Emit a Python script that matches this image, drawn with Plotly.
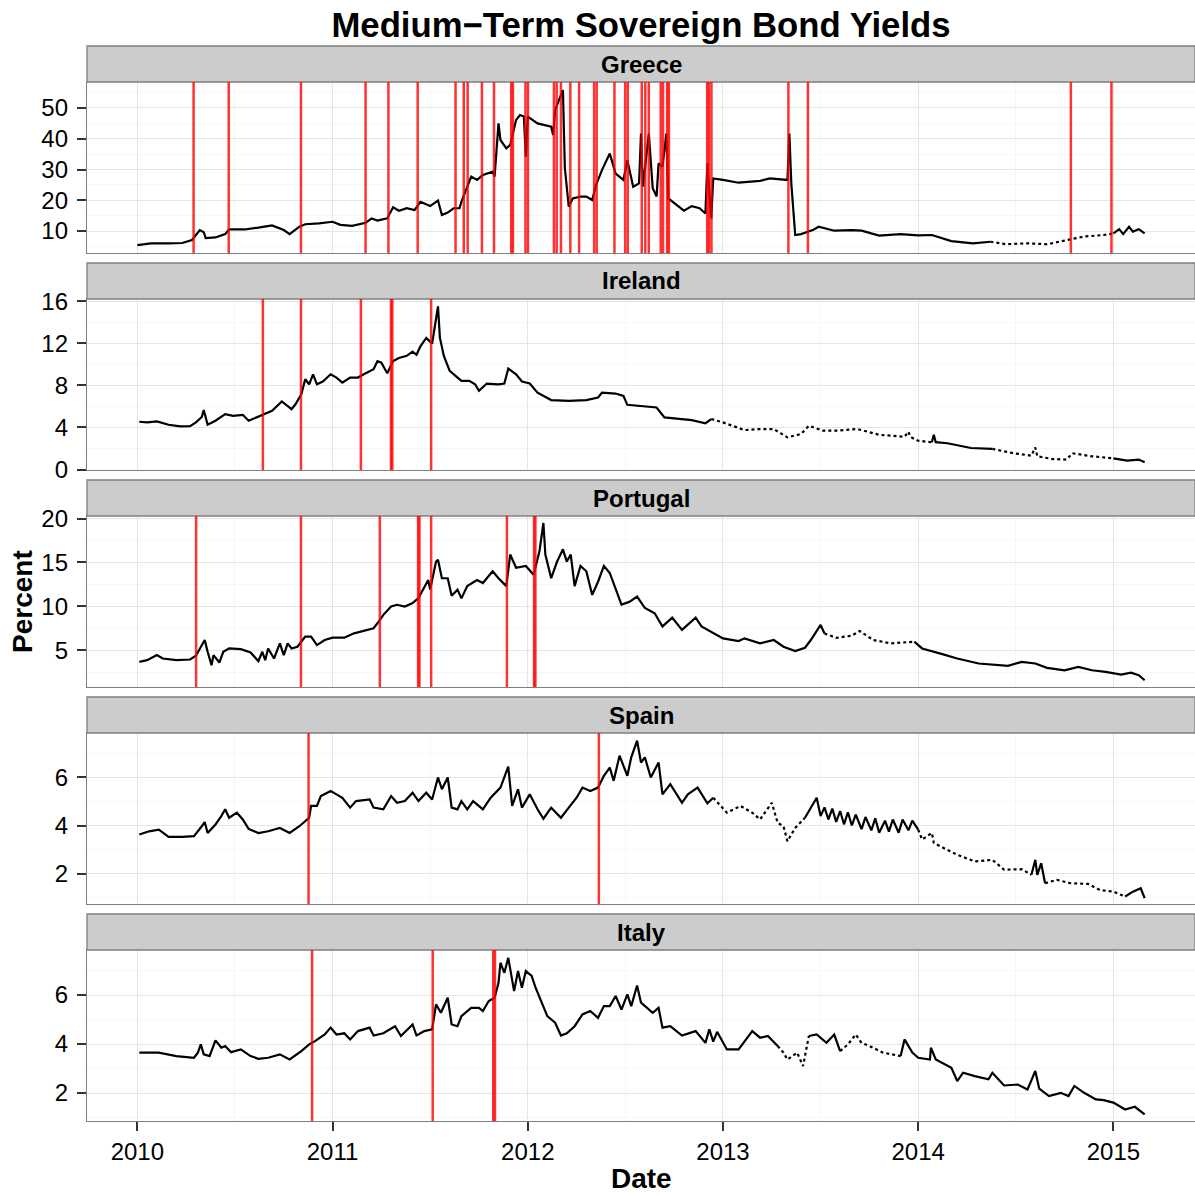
import plotly.graph_objects as go

# ---------------- data (decimal years, percent) ----------------
countries = ["Greece", "Ireland", "Portugal", "Spain", "Italy"]

greece_t = [2010.00, 2010.07, 2010.16, 2010.23, 2010.28, 2010.32, 2010.34, 2010.35, 2010.40, 2010.45,
            2010.47, 2010.55, 2010.62, 2010.69, 2010.75, 2010.78, 2010.83, 2010.86, 2010.93, 2011.00,
            2011.04, 2011.10, 2011.17, 2011.20, 2011.23, 2011.28, 2011.31, 2011.34, 2011.38, 2011.42,
            2011.45, 2011.50, 2011.54, 2011.56, 2011.59, 2011.62, 2011.65, 2011.66, 2011.71, 2011.74,
            2011.77, 2011.82, 2011.83, 2011.85, 2011.86, 2011.89, 2011.91, 2011.94, 2011.96, 2011.98,
            2011.99, 2012.00, 2012.05, 2012.08, 2012.12, 2012.13, 2012.14, 2012.16, 2012.18, 2012.19,
            2012.21, 2012.23, 2012.27, 2012.30, 2012.33, 2012.35, 2012.38, 2012.42, 2012.45, 2012.49,
            2012.51, 2012.54, 2012.57, 2012.58, 2012.59, 2012.62, 2012.63, 2012.64, 2012.66, 2012.67,
            2012.69, 2012.71, 2012.72, 2012.75, 2012.80, 2012.84, 2012.88, 2012.91, 2012.92, 2012.94,
            2012.95, 2013.00, 2013.08, 2013.19, 2013.24, 2013.33, 2013.34, 2013.35, 2013.37, 2013.40,
            2013.46, 2013.49, 2013.57, 2013.66, 2013.71, 2013.80, 2013.91, 2014.00, 2014.07, 2014.17,
            2014.28, 2014.37, 2014.45, 2014.56, 2014.66, 2014.78, 2014.85, 2014.95, 2015.00, 2015.03,
            2015.05, 2015.08, 2015.10, 2015.13, 2015.16]
greece_y = [5.4, 6.0, 6.0, 6.1, 7.1, 10.3, 9.6, 7.7, 7.9, 9.0,
            10.5, 10.5, 11.1, 11.8, 10.3, 9.0, 11.4, 12.2, 12.5, 13.0,
            12.0, 11.7, 12.7, 14.1, 13.4, 14.1, 17.7, 16.6, 17.4, 16.8,
            19.5, 18.1, 19.9, 15.2, 16.0, 17.4, 17.4, 19.5, 27.7, 26.6,
            28.2, 29.3, 27.7, 45.0, 39.6, 36.9, 38.0, 46.1, 47.7, 47.2,
            34.2, 47.2, 45.0, 44.5, 43.9, 41.2, 49.3, 52.6, 55.8, 30.4,
            17.9, 20.6, 21.2, 21.2, 20.1, 25.0, 29.8, 35.2, 28.7, 26.6,
            33.0, 24.4, 25.5, 41.7, 24.4, 41.7, 32.5, 23.9, 21.2, 32.0,
            30.9, 41.7, 20.6, 19.0, 16.6, 18.1, 17.4, 15.7, 32.0, 14.1,
            27.1, 26.6, 25.7, 26.3, 27.1, 26.6, 41.7, 25.5, 8.7, 9.0,
            10.3, 11.4, 10.1, 10.3, 10.1, 8.5, 9.0, 8.6, 8.7, 6.7,
            6.0, 6.5, 5.7, 6.0, 5.7, 7.3, 8.2, 8.7, 9.2, 10.6,
            9.0, 11.4, 9.8, 10.6, 9.2]

ireland_t = [2010.01, 2010.05, 2010.10, 2010.16, 2010.22, 2010.27, 2010.30, 2010.33, 2010.34, 2010.36,
             2010.40, 2010.45, 2010.49, 2010.54, 2010.57, 2010.61, 2010.65, 2010.69, 2010.74, 2010.77,
             2010.79, 2010.81, 2010.84, 2010.86, 2010.88, 2010.90, 2010.92, 2010.95, 2010.99, 2011.02,
             2011.05, 2011.09, 2011.13, 2011.16, 2011.21, 2011.23, 2011.25, 2011.28, 2011.31, 2011.34,
             2011.38, 2011.41, 2011.43, 2011.45, 2011.48, 2011.51, 2011.53, 2011.54, 2011.55, 2011.57,
             2011.60, 2011.63, 2011.66, 2011.70, 2011.73, 2011.75, 2011.79, 2011.85, 2011.88, 2011.90,
             2011.94, 2011.97, 2012.01, 2012.05, 2012.12, 2012.21, 2012.30, 2012.36, 2012.38, 2012.45,
             2012.49, 2012.51, 2012.61, 2012.66, 2012.70, 2012.77, 2012.84, 2012.91, 2012.94, 2013.00,
             2013.11, 2013.19, 2013.26, 2013.33, 2013.40, 2013.44, 2013.51, 2013.58, 2013.69, 2013.80,
             2013.93, 2013.95, 2013.96, 2014.00, 2014.07, 2014.08, 2014.09, 2014.15, 2014.27, 2014.38,
             2014.49, 2014.58, 2014.60, 2014.61, 2014.69, 2014.76, 2014.79, 2014.89, 2015.00, 2015.07,
             2015.13, 2015.16]
ireland_y = [4.54, 4.48, 4.57, 4.26, 4.10, 4.13, 4.48, 5.00, 5.65, 4.26,
             4.64, 5.27, 5.10, 5.20, 4.64, 4.95, 5.27, 5.58, 6.47, 6.06,
             5.74, 6.20, 7.16, 8.58, 8.10, 9.05, 8.10, 8.36, 9.05, 8.74,
             8.26, 8.74, 8.74, 9.05, 9.53, 10.30, 10.16, 9.15, 10.30, 10.60,
             10.80, 11.20, 10.90, 11.70, 12.50, 11.96, 14.10, 15.50, 12.50, 10.80,
             9.37, 8.90, 8.42, 8.42, 8.10, 7.48, 8.17, 8.10, 8.17, 9.60,
             9.05, 8.36, 8.17, 7.30, 6.60, 6.53, 6.60, 6.85, 7.30, 7.22,
             7.00, 6.15, 5.96, 5.90, 4.95, 4.80, 4.70, 4.40, 4.80, 4.48,
             3.75, 3.85, 3.85, 3.06, 3.38, 4.16, 3.70, 3.70, 3.85, 3.30,
             3.12, 3.60, 3.10, 2.74, 2.59, 3.30, 2.60, 2.50, 2.05, 1.96,
             1.55, 1.32, 2.10, 1.26, 1.00, 0.95, 1.55, 1.26, 1.07, 0.85,
             0.95, 0.70]

portugal_t = [2010.01, 2010.05, 2010.10, 2010.13, 2010.20, 2010.27, 2010.30, 2010.33, 2010.345, 2010.36,
              2010.38, 2010.39, 2010.42, 2010.44, 2010.47, 2010.53, 2010.58, 2010.62, 2010.64, 2010.655,
              2010.67, 2010.70, 2010.73, 2010.75, 2010.77, 2010.79, 2010.82, 2010.86, 2010.89, 2010.92,
              2010.96, 2011.00, 2011.06, 2011.11, 2011.17, 2011.21, 2011.23, 2011.26, 2011.30, 2011.33,
              2011.37, 2011.41, 2011.44, 2011.49, 2011.50, 2011.53, 2011.54, 2011.56, 2011.59, 2011.61,
              2011.64, 2011.66, 2011.69, 2011.74, 2011.77, 2011.82, 2011.85, 2011.89, 2011.91, 2011.94,
              2011.99, 2012.03, 2012.06, 2012.08, 2012.09, 2012.12, 2012.15, 2012.18, 2012.20, 2012.22,
              2012.24, 2012.27, 2012.30, 2012.33, 2012.36, 2012.39, 2012.42, 2012.45, 2012.48, 2012.52,
              2012.56, 2012.60, 2012.65, 2012.69, 2012.74, 2012.79, 2012.86, 2012.89, 2012.94, 2013.00,
              2013.08, 2013.11, 2013.19, 2013.26, 2013.31, 2013.37, 2013.42, 2013.45, 2013.50, 2013.52,
              2013.58, 2013.66, 2013.70, 2013.77, 2013.86, 2013.98, 2014.02, 2014.11, 2014.20, 2014.31,
              2014.38, 2014.46, 2014.53, 2014.60, 2014.66, 2014.75, 2014.82, 2014.89, 2014.96, 2015.04,
              2015.09, 2015.13, 2015.16]
portugal_y = [3.66, 3.85, 4.43, 4.04, 3.85, 3.93, 4.35, 5.57, 6.15, 4.81,
              3.28, 4.43, 3.58, 4.81, 5.19, 5.11, 4.73, 3.74, 4.81, 3.85,
              5.19, 4.04, 5.77, 4.43, 5.77, 5.19, 5.38, 6.53, 6.53, 5.57,
              6.15, 6.42, 6.42, 6.91, 7.30, 7.49, 8.06, 9.02, 9.97, 10.17,
              9.97, 10.36, 10.93, 13.00, 11.90, 15.10, 15.30, 13.20, 13.20, 11.20,
              11.90, 10.90, 12.30, 13.00, 12.65, 14.00, 13.20, 12.30, 15.90, 14.40,
              14.60, 13.60, 16.30, 19.50, 15.90, 13.20, 15.10, 16.50, 15.10, 15.90,
              12.30, 14.60, 14.00, 11.30, 12.80, 14.60, 13.80, 12.10, 10.20, 10.50,
              11.10, 9.80, 9.20, 7.70, 8.70, 7.30, 8.70, 7.70, 7.10, 6.34,
              6.03, 6.34, 5.77, 6.15, 5.38, 4.89, 5.27, 6.15, 7.87, 6.90,
              6.40, 6.65, 7.18, 6.15, 5.77, 5.96, 5.19, 4.62, 4.04, 3.47,
              3.35, 3.20, 3.66, 3.47, 2.97, 2.70, 3.09, 2.70, 2.51, 2.20,
              2.43, 2.13, 1.56]

spain_t = [2010.01, 2010.06, 2010.11, 2010.16, 2010.23, 2010.29, 2010.33, 2010.345, 2010.36, 2010.40,
           2010.43, 2010.45, 2010.47, 2010.51, 2010.54, 2010.57, 2010.62, 2010.67, 2010.73, 2010.78,
           2010.83, 2010.88, 2010.89, 2010.92, 2010.94, 2010.99, 2011.02, 2011.05, 2011.09, 2011.12,
           2011.19, 2011.21, 2011.26, 2011.30, 2011.33, 2011.37, 2011.41, 2011.44, 2011.48, 2011.51,
           2011.54, 2011.56, 2011.59, 2011.61, 2011.64, 2011.66, 2011.69, 2011.72, 2011.77, 2011.81,
           2011.86, 2011.90, 2011.92, 2011.95, 2011.97, 2012.01, 2012.05, 2012.08, 2012.12, 2012.17,
           2012.21, 2012.25, 2012.28, 2012.32, 2012.36, 2012.39, 2012.42, 2012.44, 2012.47, 2012.51,
           2012.53, 2012.56, 2012.58, 2012.60, 2012.63, 2012.67, 2012.69, 2012.73, 2012.79, 2012.82,
           2012.87, 2012.92, 2012.95, 2013.02, 2013.09, 2013.15, 2013.19, 2013.25, 2013.28, 2013.31,
           2013.33, 2013.37, 2013.42, 2013.48, 2013.50, 2013.52, 2013.54, 2013.56, 2013.58, 2013.60,
           2013.62, 2013.64, 2013.66, 2013.68, 2013.71, 2013.73, 2013.76, 2013.78, 2013.80, 2013.83,
           2013.85, 2013.87, 2013.90, 2013.92, 2013.95, 2013.97, 2014.00, 2014.02, 2014.07, 2014.08,
           2014.13, 2014.20, 2014.29, 2014.38, 2014.44, 2014.53, 2014.58, 2014.60, 2014.61, 2014.63,
           2014.65, 2014.71, 2014.78, 2014.87, 2014.93, 2015.00, 2015.06, 2015.10, 2015.14, 2015.16]
spain_y = [3.63, 3.76, 3.83, 3.53, 3.53, 3.56, 3.97, 4.14, 3.69, 4.04,
           4.39, 4.67, 4.32, 4.53, 4.25, 3.86, 3.69, 3.76, 3.90, 3.69,
           3.97, 4.32, 4.81, 4.81, 5.22, 5.43, 5.29, 5.15, 4.74, 5.01,
           5.08, 4.74, 4.67, 5.22, 4.94, 5.01, 5.36, 5.01, 5.36, 5.08,
           5.99, 5.50, 5.99, 4.74, 4.67, 5.01, 4.67, 5.01, 4.67, 5.15,
           5.57, 6.44, 4.81, 5.50, 4.74, 5.29, 4.67, 4.28, 4.74, 4.32,
           4.74, 5.15, 5.57, 5.43, 5.57, 6.06, 6.40, 5.85, 6.89, 6.06,
           6.82, 7.51, 6.61, 6.82, 5.99, 6.61, 5.29, 5.71, 4.94, 5.29,
           5.57, 4.92, 5.15, 4.53, 4.81, 4.53, 4.25, 4.94, 4.11, 3.97,
           3.35, 3.90, 4.32, 5.15, 4.39, 4.75, 4.25, 4.70, 4.15, 4.60,
           4.05, 4.55, 4.00, 4.45, 3.85, 4.35, 3.80, 4.30, 3.70, 4.20,
           3.75, 4.25, 3.70, 4.25, 3.80, 4.20, 3.83, 3.42, 3.69, 3.28,
           3.07, 2.79, 2.51, 2.58, 2.17, 2.19, 1.96, 2.58, 1.96, 2.44,
           1.61, 1.75, 1.61, 1.58, 1.33, 1.26, 1.06, 1.26, 1.40, 0.99]

italy_t = [2010.01, 2010.11, 2010.20, 2010.29, 2010.31, 2010.325, 2010.34, 2010.37, 2010.40, 2010.43,
           2010.45, 2010.48, 2010.53, 2010.58, 2010.62, 2010.67, 2010.73, 2010.78, 2010.84, 2010.88,
           2010.91, 2010.96, 2010.99, 2011.02, 2011.06, 2011.09, 2011.13, 2011.19, 2011.21, 2011.26,
           2011.32, 2011.35, 2011.41, 2011.43, 2011.47, 2011.51, 2011.53, 2011.555, 2011.59, 2011.61,
           2011.64, 2011.66, 2011.71, 2011.75, 2011.77, 2011.80, 2011.83, 2011.85, 2011.86, 2011.88,
           2011.90, 2011.93, 2011.95, 2011.97, 2011.99, 2012.02, 2012.04, 2012.07, 2012.10, 2012.14,
           2012.17, 2012.20, 2012.24, 2012.28, 2012.32, 2012.36, 2012.39, 2012.42, 2012.45, 2012.48,
           2012.51, 2012.53, 2012.56, 2012.58, 2012.60, 2012.64, 2012.67, 2012.69, 2012.73, 2012.79,
           2012.86, 2012.91, 2012.93, 2012.95, 2012.97, 2013.02, 2013.08, 2013.11, 2013.15, 2013.19,
           2013.23, 2013.28, 2013.31, 2013.33, 2013.38, 2013.41, 2013.44, 2013.48, 2013.53, 2013.57,
           2013.60, 2013.64, 2013.68, 2013.71, 2013.75, 2013.82, 2013.91, 2013.93, 2013.97, 2014.00,
           2014.06, 2014.065, 2014.09, 2014.17, 2014.20, 2014.23, 2014.29, 2014.36, 2014.38, 2014.44,
           2014.51, 2014.56, 2014.60, 2014.62, 2014.67, 2014.73, 2014.77, 2014.80, 2014.85, 2014.91,
           2014.95, 2015.00, 2015.06, 2015.11, 2015.16]
italy_y = [3.65, 3.65, 3.51, 3.44, 3.65, 3.99, 3.58, 3.51, 4.15, 3.85,
           3.92, 3.67, 3.78, 3.51, 3.40, 3.44, 3.58, 3.37, 3.71, 3.99,
           4.12, 4.39, 4.67, 4.39, 4.44, 4.19, 4.53, 4.67, 4.35, 4.44,
           4.73, 4.33, 4.80, 4.35, 4.53, 4.60, 5.62, 5.28, 5.89, 4.80,
           4.73, 5.14, 5.48, 5.48, 5.35, 5.76, 5.89, 6.50, 7.32, 6.91,
           7.52, 6.16, 6.98, 6.30, 6.98, 6.78, 6.30, 5.69, 5.14, 4.87,
           4.35, 4.44, 4.73, 5.21, 5.35, 5.07, 5.55, 5.55, 5.96, 5.41,
           6.03, 5.55, 6.39, 5.69, 5.55, 5.28, 5.48, 4.67, 4.73, 4.35,
           4.53, 4.05, 4.60, 4.10, 4.50, 3.78, 3.78, 4.12, 4.53, 4.26,
           4.33, 3.92, 3.65, 3.37, 3.65, 3.10, 4.33, 4.39, 4.05, 4.39,
           3.71, 3.99, 4.39, 4.05, 3.92, 3.65, 3.51, 4.19, 3.65, 3.44,
           3.37, 3.85, 3.37, 3.03, 2.49, 2.83, 2.69, 2.56, 2.83, 2.31,
           2.35, 2.15, 2.90, 2.18, 1.88, 2.01, 1.88, 2.29, 2.01, 1.74,
           1.71, 1.61, 1.33, 1.44, 1.13]

# stretches where the reference line is broken into dots (sparse data)
greece_sparse = [[2014.40, 2014.97]]
ireland_sparse = [[2012.95, 2014.05], [2014.40, 2014.98]]
portugal_sparse = [[2013.53, 2013.95]]
spain_sparse = [[2012.97, 2013.40], [2014.02, 2014.57], [2014.66, 2015.00]]
italy_sparse = [[2013.30, 2013.43], [2013.63, 2013.90]]

greece_events = [2010.288, 2010.468, 2010.838, 2011.169, 2011.286, 2011.436, 2011.630, 2011.672,
                 2011.692, 2011.765, 2011.827, 2011.915, 2011.924, 2011.988, 2012.001, 2012.134,
                 2012.148, 2012.170, 2012.218, 2012.263, 2012.340, 2012.353, 2012.444, 2012.499,
                 2012.512, 2012.584, 2012.602, 2012.620, 2012.681, 2012.693, 2012.714, 2012.723,
                 2012.919, 2012.928, 2012.941, 2013.335, 2013.435, 2014.782, 2014.990]
ireland_events = [2010.643, 2010.838, 2011.145, 2011.299, 2011.306, 2011.505]
portugal_events = [2010.301, 2010.838, 2011.242, 2011.438, 2011.445, 2011.505, 2011.893,
                   2012.032, 2012.039]
spain_events = [2010.877, 2012.364]
italy_events = [2010.895, 2011.513, 2011.823, 2011.832]

year_ticks = [2010, 2011, 2012, 2013, 2014, 2015]
year_minor = [2009.5, 2010.5, 2011.5, 2012.5, 2013.5, 2014.5, 2015.5]

y_ranges = [[2.85, 58.45], [-0.04, 16.2], [0.79, 20.3], [0.75, 7.83], [0.86, 7.84]]
y_major = [[10, 20, 30, 40, 50], [0, 4, 8, 12, 16], [5, 10, 15, 20], [2, 4, 6], [2, 4, 6]]
y_minor = [[5, 15, 25, 35, 45, 55], [2, 6, 10, 14], [2.5, 7.5, 12.5, 17.5], [1, 3, 5, 7], [1, 3, 5, 7]]

series_t = [greece_t, ireland_t, portugal_t, spain_t, italy_t]
series_y = [greece_y, ireland_y, portugal_y, spain_y, italy_y]
sparse = [greece_sparse, ireland_sparse, portugal_sparse, spain_sparse, italy_sparse]
events = [greece_events, ireland_events, portugal_events, spain_events, italy_events]

# ---------------- layout geometry (pixels) ----------------
W = H = 1195
ML, MR, MT, MB = 87, 0, 46, 73
plot_h = H - MT - MB
STRIP, PANEL, GAP = 36, 171, 10


def py(px):
    return (H - MB - px) / plot_h


FONT = "Liberation Sans, Arial, Helvetica, sans-serif"
TICKFONT = dict(size=24, color="black", family=FONT)
fig = go.Figure()
shapes = []
annotations = []
layout = {}
x_range = [2009.742, 2015.418]

for i, name in enumerate(countries):
    n = i + 1
    xs = "x" if n == 1 else f"x{n}"
    ys = "y" if n == 1 else f"y{n}"
    xk = "xaxis" if n == 1 else f"xaxis{n}"
    yk = "yaxis" if n == 1 else f"yaxis{n}"
    strip_top = MT + i * (STRIP + PANEL + GAP)
    strip_bot = strip_top + STRIP
    pan_bot = strip_bot + PANEL

    t, v = series_t[i], series_y[i]
    inside = [any(a <= tt <= b for a, b in sparse[i]) for tt in t]
    m = len(t)
    solid_y = [v[k] if not inside[k] else None for k in range(m)]
    dot_y = [v[k] if (inside[k] or (k > 0 and inside[k - 1]) or (k < m - 1 and inside[k + 1])) else None
             for k in range(m)]
    fig.add_trace(go.Scatter(x=t, y=solid_y, mode="lines", xaxis=xs, yaxis=ys, connectgaps=False,
                             line=dict(color="black", width=2.2), showlegend=False, hoverinfo="skip"))
    fig.add_trace(go.Scatter(x=t, y=dot_y, mode="lines", xaxis=xs, yaxis=ys, connectgaps=False,
                             line=dict(color="black", width=2.2, dash="dot"), showlegend=False,
                             hoverinfo="skip"))

    last = (i == len(countries) - 1)
    layout[xk] = dict(
        domain=[0, 1], anchor=ys, range=x_range, tickmode="array", tickvals=year_ticks,
        ticktext=[str(v) for v in year_ticks], showticklabels=last,
        ticks="outside" if last else "", ticklen=9, tickwidth=2, tickcolor="#333333",
        ticklabelstandoff=0, tickfont=TICKFONT,
        showgrid=True, gridcolor="#E5E5E5", gridwidth=1.3, zeroline=False,
        minor=dict(tickvals=year_minor, showgrid=True, gridcolor="#F7F7F7", gridwidth=1, ticks=""),
        showline=True, mirror=True, linecolor="#7F7F7F", linewidth=1.3,
    )
    if n > 1:
        layout[xk]["matches"] = "x"
    layout[yk] = dict(
        domain=[py(pan_bot), py(strip_bot)], anchor=xs, range=y_ranges[i], tickmode="array",
        tickvals=y_major[i], ticks="outside", ticklen=9, tickwidth=2, tickcolor="#333333",
        ticklabelstandoff=4, tickfont=TICKFONT,
        showgrid=True, gridcolor="#E5E5E5", gridwidth=1.3, zeroline=False,
        minor=dict(tickvals=y_minor[i], showgrid=True, gridcolor="#F7F7F7", gridwidth=1, ticks=""),
        showline=True, mirror=True, linecolor="#7F7F7F", linewidth=1.3,
    )

    # strip
    shapes.append(dict(type="rect", xref="paper", yref="paper", x0=0, x1=1,
                       y0=py(strip_bot), y1=py(strip_top), fillcolor="#CCCCCC",
                       line=dict(color="#7F7F7F", width=1.3), layer="above"))
    annotations.append(dict(text=f"<b>{name}</b>", xref="paper", yref="paper", x=0.5,
                            y=py((strip_top + strip_bot) / 2), xanchor="center", yanchor="middle",
                            showarrow=False, font=dict(size=24, color="black", family=FONT)))
    # event lines
    for d in events[i]:
        shapes.append(dict(type="line", xref=xs, yref=f"{ys} domain", x0=d, x1=d, y0=0, y1=1,
                           line=dict(color="rgba(255,0,0,0.8)", width=2.5), layer="above"))

annotations.append(dict(text="<b>Percent</b>", xref="paper", yref="paper",
                        x=(22 - ML) / (W - ML - MR), y=py(602), textangle=-90,
                        xanchor="center", yanchor="middle", showarrow=False,
                        font=dict(size=28, color="black", family=FONT)))
annotations.append(dict(text="<b>Date</b>", xref="paper", yref="paper", x=0.5, y=py(1178),
                        xanchor="center", yanchor="middle", showarrow=False,
                        font=dict(size=28, color="black", family=FONT)))

fig.update_layout(
    width=W, height=H, margin=dict(l=ML, r=MR, t=MT, b=MB),
    paper_bgcolor="white", plot_bgcolor="white",
    title=dict(text="<b>Medium\u2212Term Sovereign Bond Yields</b>", x=0.5, xref="paper",
               y=1 - 25 / H, yref="container", xanchor="center", yanchor="middle",
               font=dict(size=34.7, color="black", family=FONT)),
    shapes=shapes, annotations=annotations, showlegend=False, **layout,
)

fig.write_html("out.html")
